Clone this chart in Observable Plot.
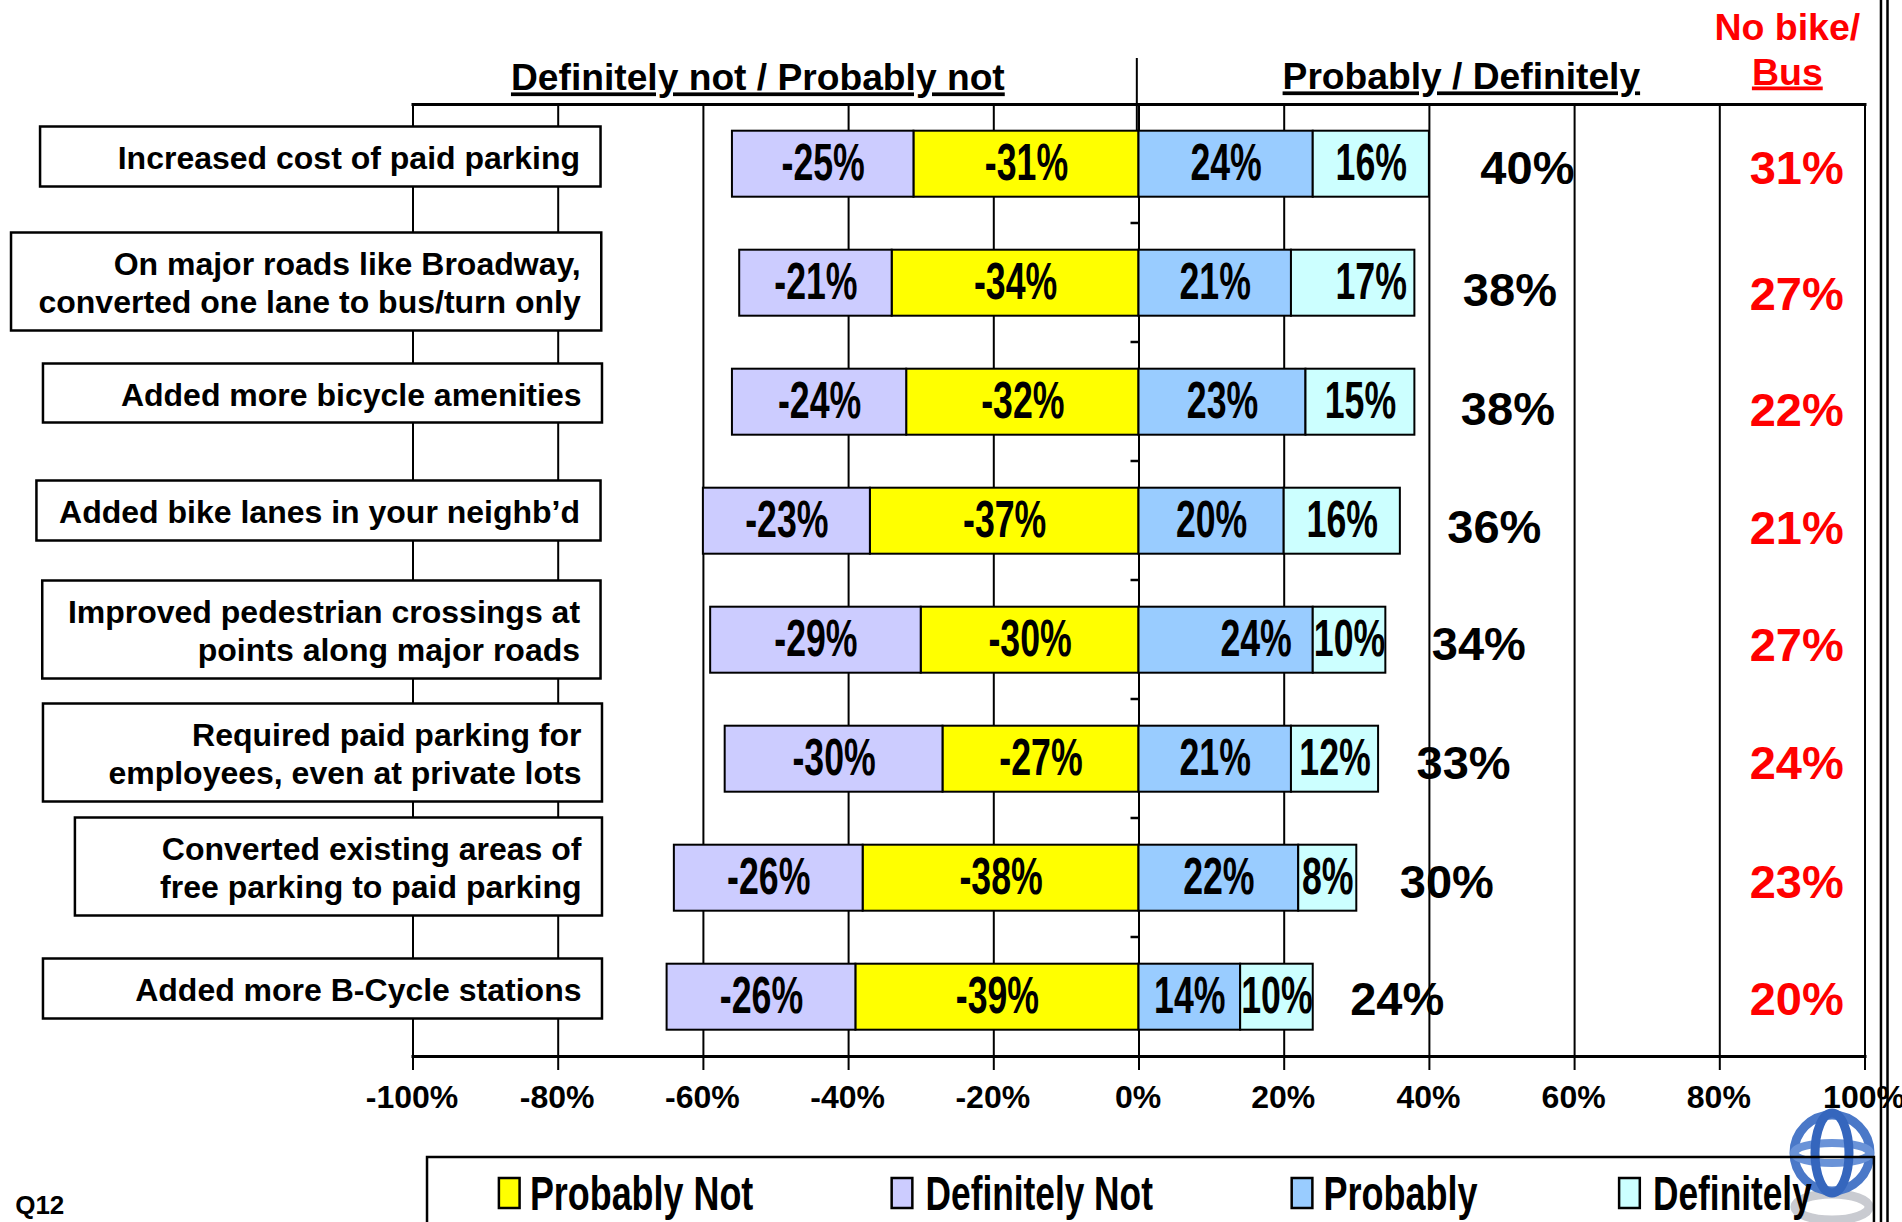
<!DOCTYPE html>
<html><head><meta charset="utf-8">
<style>html,body{margin:0;padding:0;background:#fff;overflow:hidden}svg{display:block}</style>
<script src="https://cdn.jsdelivr.net/npm/d3@7"></script>
<script src="https://cdn.jsdelivr.net/npm/@observablehq/plot@0.6"></script>
</head><body><div id="chart"></div>
<script>
const categories = ["Increased cost of paid parking","On major roads like Broadway,\nconverted one lane to bus/turn only","Added more bicycle amenities","Added bike lanes in your neighb’d","Improved pedestrian crossings at\npoints along major roads","Required paid parking for\nemployees, even at private lots","Converted existing areas of\nfree parking to paid parking","Added more B-Cycle stations"];
const seriesNames = ["Probably Not","Definitely Not","Probably","Definitely"];
const seriesColors = ["#ffff00","#ccccff","#99ccff","#ccffff"];
const definitelyNot = [-25,-21,-24,-23,-29,-30,-26,-26];
const probablyNot = [-31,-34,-32,-37,-30,-27,-38,-39];
const probably = [24,21,23,20,24,21,22,14];
const definitely = [16,17,15,16,10,12,8,10];
const totals = [40,38,38,36,34,33,30,24];
const noBikeBus = [31,27,22,21,27,24,23,20];
const xTicks = [-100,-80,-60,-40,-20,0,20,40,60,80,100];

// layout only
const boxLeft = [-151.3,-155.3,-150.9,-151.8,-151,-150.9,-146.5,-150.9];
const boxRight = [-74.1,-74,-73.9,-74.1,-74.1,-73.9,-73.9,-73.9];
const boxTop = [127,233,364,481,581,704,818,959], boxBottom=[187,331,423,541,679,802,916,1019];
const totalDx = [98,95,93,94,93,85,90,84], totalDy=[5,8,8,7,5,5,5,3], noBikeDy=[5,12,9,8,6,5,5,3];
const nudge = {"1|Definitely":18,"4|Probably":30};
const frameTop=104, frameBottom=1056, rowStep=119;

const table = categories.flatMap((c,i)=>[
  {c,i,s:"Probably Not",v:probablyNot[i]},
  {c,i,s:"Definitely Not",v:definitelyNot[i]},
  {c,i,s:"Probably",v:probably[i]},
  {c,i,s:"Definitely",v:definitely[i]}]);
const stackOpts={x:"v",y:"c",z:"s",order:seriesNames};
const squeeze=(sx,underline)=>(index,scales,values,dims,ctx,next)=>{
  const g=next(index,scales,values,dims,ctx);
  d3.select(g).selectAll("text").each(function(){
    const t=this.getAttribute("transform")||"";
    if(sx!==1) this.setAttribute("transform",t+` scale(${sx},1)`);
    if(underline) this.style.textDecoration="underline";
  });
  return g;
};
const F="Liberation Sans";
const base={fontFamily:F,fontWeight:700};

const topText=(text,x,py,size,fill,sx,ul,anchor="middle")=>Plot.text([text],{x:()=>x,frameAnchor:"top",dy:py-frameTop,text:d=>d,...base,fontSize:size,fill,textAnchor:anchor,lineAnchor:"middle",render:squeeze(sx,ul)});
const legendX=[[-88.1,-85.25,-83.9],[-34,-31.15,-29.4],[21.1,23.95,25.4],[66.2,69.05,70.8]];
const legendTextSx=[0.733,0.72,0.735,0.72];

const boxMarks=categories.map((c,i)=>{
  const cy=frameTop+rowStep*(i+.5), bh=66;
  return Plot.barX([c],{y:d=>d,x1:()=>boxLeft[i],x2:()=>boxRight[i],fill:"#fff",stroke:"#000",strokeWidth:2.5,
    insetTop:boxTop[i]-(cy-bh/2),insetBottom:(cy+bh/2)-boxBottom[i]});
});
const boxText=categories.map((c,i)=>Plot.text([c],{y:d=>d,x:()=>boxRight[i],dx:-21,dy:(boxTop[i]+boxBottom[i])/2-(frameTop+rowStep*(i+.5)),text:d=>d,textAnchor:"end",lineAnchor:"middle",lineHeight:1.19,...base,fontSize:32,fill:"#000"}));

const logo=()=>{
  const g=d3.create("svg:g").attr("fill","none");
  const cx=1832,cy=1153;
  g.append("ellipse").attr("cx",cx).attr("cy",cy+54).attr("rx",37).attr("ry",13).attr("stroke","#c9cbd1").attr("stroke-width",9);
  g.append("circle").attr("cx",cx).attr("cy",cy).attr("r",38).attr("stroke","#4a78c8").attr("stroke-width",9);
  g.append("ellipse").attr("cx",cx).attr("cy",cy).attr("rx",38).attr("ry",10).attr("stroke","#6a93d8").attr("stroke-width",8);
  g.append("ellipse").attr("cx",cx).attr("cy",cy).attr("rx",17).attr("ry",40).attr("stroke","#3566bd").attr("stroke-width",9);
  return g.node();
};

const chart=Plot.plot({
  width:1902,height:1222,marginLeft:412.5,marginRight:37.5,marginTop:frameTop,marginBottom:1222-frameBottom,
  style:{background:"#fff",fontFamily:F},
  x:{domain:[-100,100],ticks:xTicks,label:null},
  y:{domain:categories,paddingInner:.445,paddingOuter:.2225,axis:null},
  color:{domain:seriesNames,range:seriesColors},
  marks:[
    logo,
    Plot.ruleX(xTicks,{stroke:"#000",strokeWidth:2,insetBottom:-14}),
    Plot.axisX({ticks:xTicks,tickFormat:d=>d+"%",tickSize:0,tickPadding:28.5,dx:-1,fontSize:32,fontWeight:700,fontFamily:F,fill:"#000",label:null}),
    Plot.frame({anchor:"top",stroke:"#000",strokeWidth:3}),
    Plot.frame({anchor:"bottom",stroke:"#000",strokeWidth:3}),
    Plot.ruleX([-0.3],{stroke:"#000",strokeWidth:2,insetTop:-46,insetBottom:921}),
    Plot.ruleY(categories.slice(0,7),{x1:()=>-1.1,x2:()=>0,dy:59.5,stroke:"#000",strokeWidth:2.5}),
    Plot.ruleX([102.2,103.1],{stroke:"#000",strokeWidth:2.5,insetTop:-104,insetBottom:-166}),
    ...boxMarks,
    Plot.barX(table,Plot.stackX({...stackOpts,fill:"s",stroke:"#000",strokeWidth:2,dy:.7})),
    Plot.text(table,Plot.stackX({...stackOpts,text:d=>nudge[d.i+"|"+d.s]?null:d.v+"%",dy:.5,...base,fontSize:51,fill:"#000",render:squeeze(.7)})),
    ...Object.keys(nudge).map(k=>Plot.text(table,Plot.stackX({...stackOpts,text:d=>d.i+"|"+d.s===k?d.v+"%":null,dx:nudge[k],dy:.5,...base,fontSize:51,fill:"#000",render:squeeze(.7)}))),
    ...totals.map((t,i)=>Plot.text([t],{x:d=>d,y:()=>categories[i],dx:totalDx[i],dy:totalDy[i],text:d=>d+"%",...base,fontSize:47,fill:"#000"})),
    ...noBikeBus.map((t,i)=>Plot.text([t],{x:()=>90.6,y:()=>categories[i],dy:noBikeDy[i],text:d=>d+"%",...base,fontSize:47,fill:"#f00"})),
    ...boxText,
    topText("Definitely not / Probably not",-52.5,78,37.2,"#000",1,true),
    topText("Probably / Definitely",44.4,77,37.2,"#000",1,true),
    topText("No bike/",89.3,27,37.5,"#f00",1,false),
    topText("Bus",89.3,72,37.5,"#f00",1,true),
    topText("Q12",-154.8,1205,26,"#000",1,false,"start"),
    Plot.barX(["legend"],{x1:()=>-98,x2:()=>101.3,fill:"none",stroke:"#000",strokeWidth:2.5,insetTop:1157-frameTop,insetBottom:1056-1240}),
    ...seriesNames.flatMap((s,i)=>[
      Plot.barX([s],{x1:()=>legendX[i][0],x2:()=>legendX[i][1],fill:d=>d,stroke:"#000",strokeWidth:2.5,insetTop:1178-frameTop,insetBottom:1056-1208}),
      topText(s,legendX[i][2],1194,49,"#000",legendTextSx[i],false,"start")
    ]),
  ]
});
document.getElementById("chart").append(chart);
</script></body></html>
